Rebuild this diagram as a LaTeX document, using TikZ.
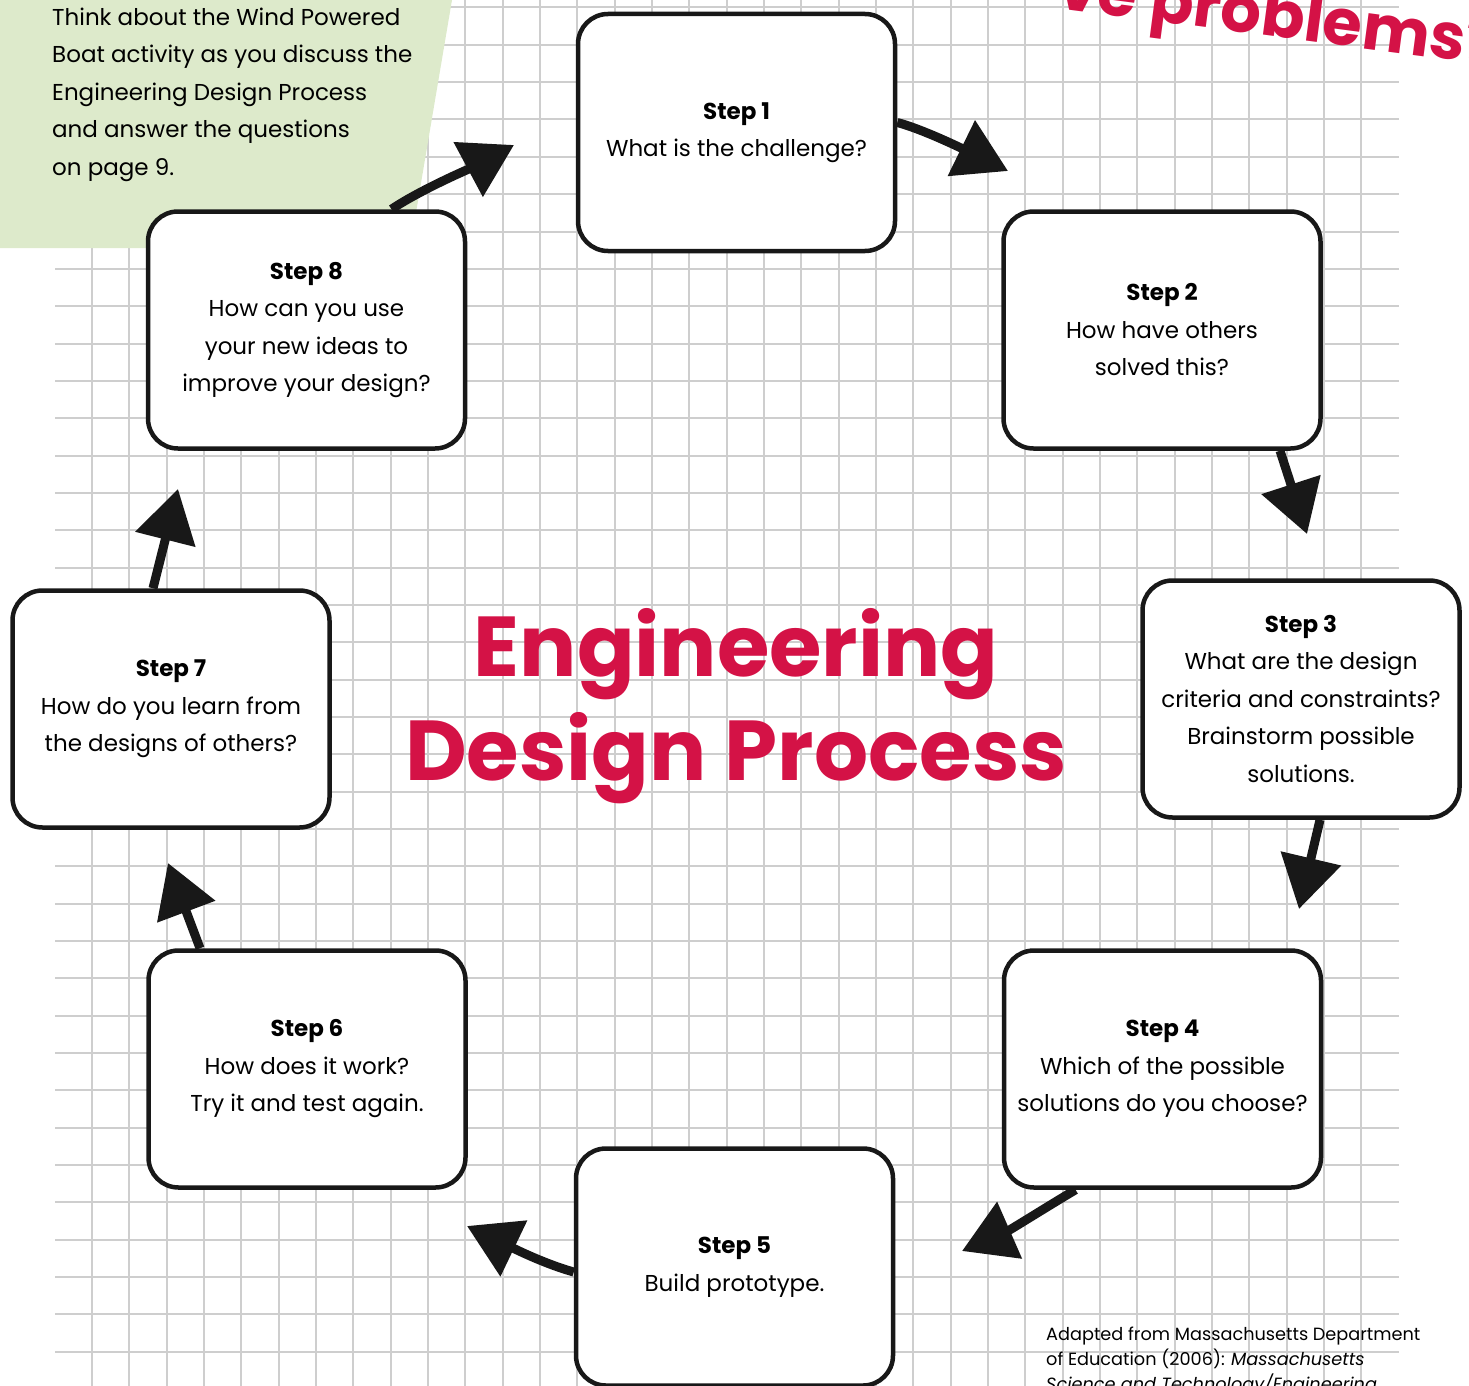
\documentclass[tikz,border=0pt]{standalone}
\usepackage{fontspec}
\setmainfont{Poppins}
\usetikzlibrary{arrows.meta,calc}
\pgfdeclarelayer{back}
\pgfdeclarelayer{mid}
\pgfsetlayers{back,mid,main}
\definecolor{edpred}{RGB}{212,18,70}
\definecolor{panelgreen}{RGB}{221,234,203}
\definecolor{gridgray}{RGB}{206,206,206}
\definecolor{inkblack}{RGB}{24,24,24}
\tikzset{
  gridline/.style={draw=gridgray, line width=2pt},
  stepbox/.style={draw=inkblack, line width=4.5pt, rounded corners=30pt, fill=white,
    minimum width=317pt, minimum height=237pt, inner sep=0pt, align=center,
    font=\fontsize{23}{37.5}\selectfont},
  conn/.style={draw=inkblack, line width=9pt, -{Triangle[length=52pt,width=60pt]}},
  bodytext/.style={inner sep=0pt, align=left, font=\fontsize{23}{37.5}\selectfont},
}
\begin{document}
\begin{tikzpicture}[x=1pt,y=-1pt]
\useasboundingbox (0,0) rectangle (1469,1386);

% boxes
\node[stepbox] (s1) at (736.5,132.5) {\textbf{Step 1}\\What is the challenge?};
\node[stepbox] (s2) at (1162,330) {\textbf{Step 2}\\How have others\\solved this?};
\node[stepbox] (s3) at (1301,699) {\textbf{Step 3}\\What are the design\\criteria and constraints?\\Brainstorm possible\\solutions.};
\node[stepbox] (s4) at (1162.5,1069) {\textbf{Step 4}\\Which of the possible\\solutions do you choose?};
\node[stepbox] (s5) at (734.5,1267) {\textbf{Step 5}\\Build prototype.};
\node[stepbox] (s6) at (307,1069) {\textbf{Step 6}\\How does it work?\\Try it and test again.};
\node[stepbox] (s7) at (171,709) {\textbf{Step 7}\\How do you learn from\\the designs of others?};
\node[stepbox] (s8) at (306.5,330) {\textbf{Step 8}\\How can you use\\your new ideas to\\improve your design?};

% title and texts
\node[font=\fontsize{85}{104}\bfseries\selectfont, text=edpred, align=center, inner sep=0pt] (title) at (736,706) {Engineering\\Design Process};
\node[bodytext, anchor=north west] (intro) at (52,7.5) {Think about the Wind Powered\\Boat activity as you discuss the\\Engineering Design Process\\and answer the questions\\on page 9.};
\node[inner sep=0pt, align=left, anchor=north west, font=\fontsize{17.7}{25}\selectfont] (credit) at (1046,1327) {Adapted from Massachusetts Department\\of Education (2006): \textit{Massachusetts}\\\textit{Science and Technology/Engineering}};
\node[inner sep=0pt, anchor=base west, rotate=-7.5, text=edpred, font=\fontsize{64}{70}\bfseries\selectfont] (headline) at (1056,8) {ve problems?};

% tips
\coordinate (t1) at (1008,171); \coordinate (m1) at (961,148);
\coordinate (t2) at (1307,534);
\coordinate (t3) at (1299,909);
\coordinate (t4) at (962,1251); \coordinate (m4) at (1010,1230);
\coordinate (t5) at (467,1226); \coordinate (m5) at (515,1249);
\coordinate (t6) at (168,863);
\coordinate (t7) at (178,489);
\coordinate (t8) at (514,145); \coordinate (m8) at (471,168);

\begin{pgfonlayer}{back}
\foreach \k in {0,...,34} \draw[gridline] ({92+37.3333*\k},0) -- ({92+37.3333*\k},1386);
\foreach \k in {0,...,36} \draw[gridline] (55,{7.5+37.3333*\k}) -- (1399,{7.5+37.3333*\k});
\fill[panelgreen] (0,0) -- (452,0) -- (410,248) -- (0,248) -- cycle;
\end{pgfonlayer}

\begin{pgfonlayer}{mid}
\draw[conn] ($(s1.east)+(0,-10)$) .. controls (922,129) and (m1) .. (t1);
\draw[conn] ($(s2.south)+(118,0)$) -- (t2);
\draw[conn] ($(s3.south)+(19,0)$) -- (t3);
\draw[conn] ($(s4.south)+(-87,0)$) .. controls (1045,1208) and (m4) .. (t4);
\draw[conn] ($(s5.west)+(0,5)$) .. controls (545,1264) and (m5) .. (t5);
\draw[conn] ($(s6.north)+(-107,0)$) -- (t6);
\draw[conn] ($(s7.north)+(-18,0)$) -- (t7);
\draw[conn] ($(s8.north)+(85,0)$) .. controls (420,190) and (m8) .. (t8);
\end{pgfonlayer}
\end{tikzpicture}
\end{document}
